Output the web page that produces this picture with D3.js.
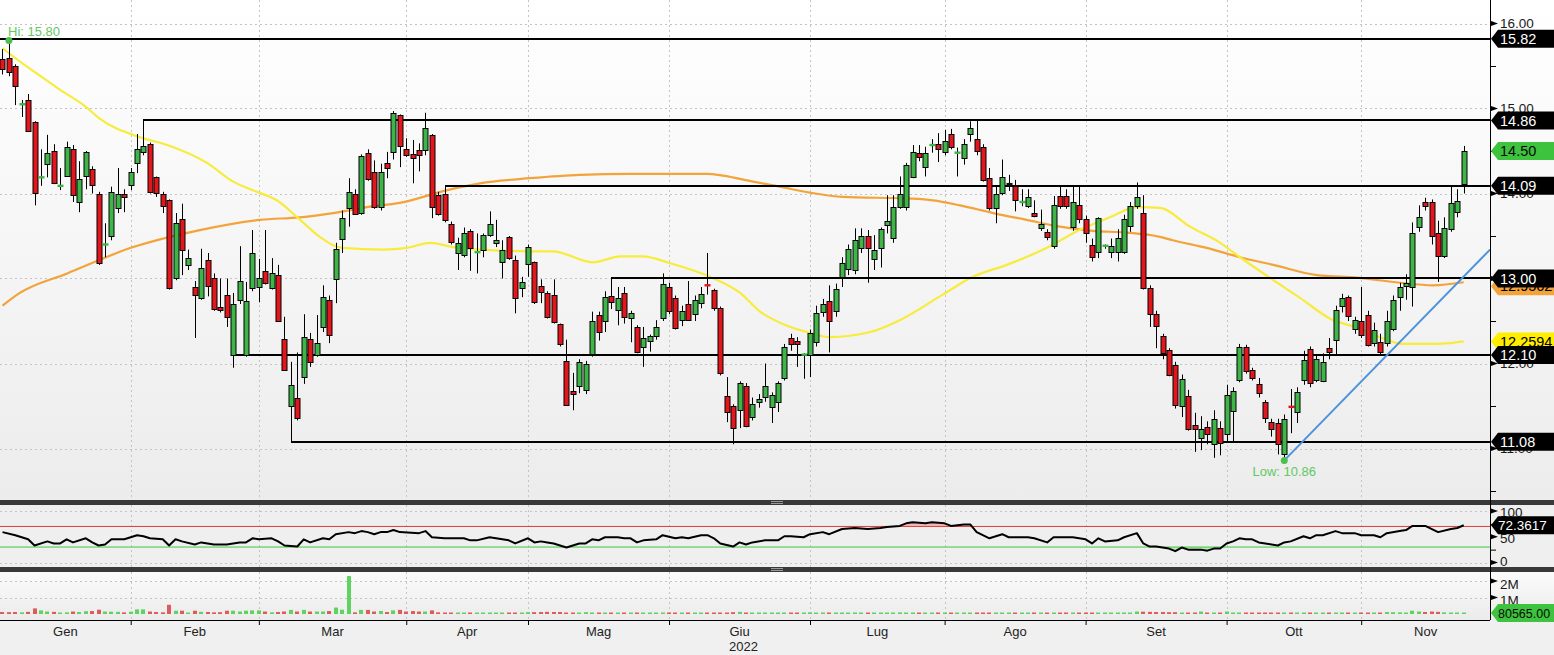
<!DOCTYPE html>
<html><head><meta charset="utf-8">
<script src="https://cdn.jsdelivr.net/npm/d3@7"></script>
<style>
body{margin:0;background:#f0f0f0;}
svg{display:block;font-family:"Liberation Sans",Arial,sans-serif;}
</style>
</head><body>
<svg id="c" width="1554" height="655"></svg>
<script>
// ---------------- DATA ----------------
const monthLabels=["Gen","Feb","Mar","Apr","Mag","Giu","Lug","Ago","Set","Ott","Nov"];
const monthStart=[0,20,40,63,82,104,126,147,169,191,212]; // trading-day index of first session of each month
const yearLabel="2022";
const priceTicks=[16,15,14,13,12,11];
const rsiTicks=[100,50,0];
const volTicks=[2000,1000]; // thousands

const open=[15.58,15.60,15.50,15.04,15.10,14.84,14.18,14.35,14.50,14.08,
14.21,14.52,13.90,14.21,14.29,14.00,13.39,13.50,13.84,14.00,
14.10,14.35,14.49,14.58,14.19,14.00,13.92,13.00,13.70,13.16,
12.90,12.77,13.22,13.00,12.67,12.81,12.10,12.75,12.10,12.89,
12.89,13.09,12.89,13.04,12.29,11.50,11.60,11.84,12.29,12.10,
12.43,12.75,13.00,13.46,13.83,14.00,13.77,14.48,14.25,13.84,
14.36,14.49,14.92,14.52,14.46,14.51,14.51,14.69,13.98,14.00,
13.64,13.30,13.28,13.56,13.30,13.33,13.51,13.42,13.19,13.49,
13.22,12.89,13.17,13.19,12.91,12.83,12.81,12.46,12.03,11.68,
11.74,11.70,12.11,12.57,12.50,12.79,12.63,12.83,12.54,12.43,
12.20,12.26,12.32,12.53,12.90,12.77,12.51,12.70,12.58,12.72,
12.93,12.86,12.65,11.62,11.50,11.45,11.74,11.37,11.54,11.61,
11.49,11.55,11.83,12.30,12.27,12.10,12.10,12.25,12.61,12.73,
12.62,13.02,13.11,13.10,13.36,13.50,13.22,13.36,13.63,13.47,
13.85,13.84,14.20,14.48,14.31,14.56,14.58,14.49,14.70,14.47,
14.41,14.70,14.64,14.55,14.18,13.84,14.00,14.11,14.09,13.89,
13.85,13.77,13.59,13.55,13.39,13.97,13.97,13.61,13.87,13.70,
13.39,13.31,13.38,13.31,13.31,13.31,13.62,13.85,13.77,12.89,
12.58,12.32,12.16,11.98,11.50,11.62,11.28,11.12,11.25,11.06,
11.24,11.17,11.45,11.81,12.19,11.92,11.76,11.55,11.31,11.30,
10.94,11.50,11.43,11.80,12.17,11.80,11.80,12.18,12.28,12.67,
12.78,12.40,12.50,12.57,12.24,12.25,12.24,12.41,12.78,12.92,
12.90,13.60,13.90,13.90,13.53,13.26,13.59,13.78,14.11];
const high=[15.70,15.80,15.52,15.10,15.17,14.85,14.52,14.69,14.58,14.30,
14.61,14.57,14.38,14.50,14.32,14.02,13.65,14.08,14.30,14.05,
14.30,14.70,14.86,14.60,14.20,14.02,13.93,13.77,13.88,13.34,
12.97,13.35,13.30,13.06,13.00,13.00,12.83,13.38,12.96,13.57,
13.23,13.57,13.24,13.16,12.55,12.02,12.13,12.58,12.36,12.57,
12.92,12.80,13.42,13.80,14.18,14.05,14.46,14.52,14.39,14.35,
14.49,14.97,14.93,14.65,14.63,14.59,14.95,14.70,14.02,14.09,
13.67,13.48,13.60,13.58,13.53,13.53,13.79,13.69,13.45,13.50,
13.27,13.02,13.40,13.20,12.99,12.85,12.99,12.47,12.28,11.89,
12.05,12.03,12.61,12.61,12.85,13.00,12.90,12.90,12.62,12.45,
12.43,12.34,12.51,13.06,12.95,12.80,12.68,12.97,12.80,12.90,
13.30,12.88,12.67,11.84,11.52,11.79,11.77,11.60,11.64,12.00,
11.66,11.79,12.23,12.35,12.31,12.12,12.40,12.68,12.76,12.92,
12.94,13.25,13.40,13.59,13.59,13.57,13.51,13.60,13.98,13.98,
14.20,14.36,14.57,14.57,14.55,14.64,14.71,14.75,14.76,14.54,
14.64,14.85,14.86,14.58,14.30,14.08,14.40,14.22,14.16,14.05,
14.05,13.92,13.81,13.58,13.97,14.09,14.05,14.09,14.09,13.74,
13.47,13.72,13.40,13.47,13.58,13.75,13.90,14.13,13.98,12.92,
12.62,12.35,12.18,12.02,11.87,11.69,11.42,11.38,11.32,11.45,
11.32,11.75,11.72,12.23,12.22,11.95,11.83,11.57,11.35,11.35,
11.40,11.70,11.72,12.15,12.20,12.10,12.12,12.30,12.68,12.82,
12.80,12.55,12.90,12.62,12.48,12.35,12.62,12.80,12.95,13.05,
13.66,13.86,13.95,13.93,13.68,13.72,14.10,14.05,14.56];
const low=[15.40,15.38,15.04,14.90,14.73,13.86,14.09,14.19,14.11,14.04,
14.20,13.90,13.78,14.05,14.00,13.16,13.25,13.45,13.77,13.78,
14.04,14.24,14.45,14.00,13.96,13.77,12.87,12.98,13.04,13.10,
12.30,12.75,12.79,12.62,12.60,12.43,11.95,12.70,12.08,12.85,
12.72,12.93,12.87,12.50,11.92,11.08,11.33,11.76,11.96,12.08,
12.37,12.24,12.71,13.30,13.61,13.75,13.75,14.15,13.82,13.80,
14.18,14.40,14.31,14.43,14.12,14.26,14.45,13.71,13.74,13.66,
13.40,13.10,13.25,13.09,13.06,13.25,13.49,13.37,13.00,13.22,
12.59,12.78,13.02,12.70,12.71,12.53,12.47,12.20,11.50,11.45,
11.65,11.64,12.08,12.27,12.37,12.64,12.45,12.47,12.25,12.12,
11.96,12.14,12.28,12.50,12.58,12.40,12.44,12.50,12.50,12.65,
12.81,12.62,11.86,11.31,11.05,11.24,11.25,11.33,11.48,11.55,
11.30,11.43,11.80,12.15,11.96,11.82,11.84,12.20,12.55,12.13,
12.55,12.90,13.04,13.05,13.30,12.95,13.10,13.13,13.53,13.42,
13.82,13.80,14.18,14.38,14.20,14.48,14.37,14.45,14.52,14.20,
14.34,14.61,14.45,14.14,13.80,13.65,13.98,14.03,13.79,13.85,
13.83,13.72,13.56,13.45,13.35,13.82,13.82,13.56,13.65,13.42,
13.20,13.24,13.35,13.24,13.20,13.29,13.55,13.82,12.87,12.43,
12.18,12.05,11.85,11.47,11.37,11.21,10.96,10.98,11.05,10.89,
10.92,11.07,11.07,11.78,11.88,11.80,11.60,11.30,11.14,10.93,
10.86,11.18,11.30,11.75,11.72,11.78,11.78,12.05,12.10,12.60,
12.50,12.35,12.30,12.20,12.20,12.10,12.20,12.38,12.62,12.75,
12.67,13.55,13.80,13.40,12.96,13.24,13.55,13.72,14.00];
const close=[15.46,15.43,15.26,15.06,14.74,14.00,14.20,14.48,14.12,14.10,
14.55,13.98,14.17,14.49,14.10,13.19,13.41,14.02,14.00,13.97,
14.25,14.52,14.56,14.02,14.00,13.86,12.89,13.65,13.34,13.24,
12.81,13.12,12.92,12.63,12.63,12.55,12.70,12.97,12.73,13.30,
13.00,12.95,13.07,12.50,11.92,11.75,11.37,12.31,12.02,12.24,
12.78,12.34,13.35,13.71,14.02,13.77,14.44,14.17,13.84,14.25,
14.30,14.95,14.55,14.45,14.41,14.45,14.77,13.84,13.76,13.69,
13.43,13.42,13.54,13.36,13.32,13.51,13.64,13.45,13.33,13.24,
12.77,12.96,13.37,12.72,12.84,12.55,12.49,12.22,11.51,11.64,
12.02,12.00,12.50,12.37,12.78,12.72,12.77,12.55,12.60,12.13,
12.30,12.32,12.43,12.93,12.62,12.42,12.62,12.51,12.75,12.82,
12.91,12.65,11.88,11.43,11.24,11.77,11.27,11.52,11.58,11.74,
11.63,11.77,12.19,12.23,12.23,12.11,12.36,12.59,12.70,12.49,
12.88,13.18,13.35,13.45,13.50,13.36,13.33,13.58,13.68,13.84,
14.00,14.33,14.49,14.43,14.48,14.58,14.52,14.62,14.55,14.49,
14.58,14.77,14.50,14.16,13.83,14.00,14.19,14.11,13.93,13.91,
13.96,13.74,13.64,13.49,13.87,13.85,13.85,13.90,13.70,13.53,
13.25,13.71,13.39,13.38,13.48,13.70,13.85,13.96,12.89,12.59,
12.44,12.12,11.87,11.51,11.82,11.23,11.23,11.23,11.17,11.35,
11.06,11.63,11.68,12.20,11.91,11.83,11.65,11.36,11.23,11.05,
11.35,11.48,11.66,12.04,11.77,12.05,12.02,12.13,12.63,12.77,
12.56,12.51,12.33,12.22,12.39,12.13,12.50,12.75,12.90,12.95,
13.54,13.72,13.85,13.50,13.26,13.59,13.89,13.91,14.50];
// volume, thousands of shares
const volume=[120,110,120,100,130,340,220,150,130,90,
100,150,120,170,180,260,150,140,130,100,
140,280,280,150,120,100,560,200,200,80,
200,130,120,100,110,200,200,150,200,220,
220,150,100,120,150,250,150,250,150,150,
150,180,390,260,2300,100,250,250,150,180,
120,220,250,150,180,150,150,220,100,90,
80,70,80,70,70,80,70,70,80,70,
80,90,110,110,120,130,120,120,90,80,
70,110,70,80,70,80,80,70,80,70,
80,80,70,90,60,40,50,60,70,80,
70,80,90,80,110,130,80,60,60,50,
60,60,70,60,50,60,100,70,60,60,
80,70,60,60,70,80,60,70,90,80,
100,90,70,90,80,60,60,70,60,60,
50,50,60,60,60,60,50,50,50,60,
50,50,60,60,50,50,50,60,50,60,
60,60,50,50,50,60,60,150,140,130,
120,120,110,110,90,80,80,150,90,80,
80,150,80,80,70,60,60,60,60,60,
70,60,60,70,80,70,60,60,60,60,
60,60,60,60,60,70,120,110,100,90,
200,150,120,150,130,100,80,70,80.565];
// 50-day moving average (yellow), sampled vertices
const maFastIdx=[0,1,5,9,13,15,21.5,25.7,31.9,36,39.7,42.8,46,49.5,51.6,53.1,59.4,63.1,66.7,70.3,74.5,82.3,85.9,92.1,96.4,99.9,104.2,110.4,115.1,118.2,121.3,126,129.1,135.4,140,146.7,151.4,156.7,162.4,168.6,172.8,177,180.6,185.3,190,193.1,198.3,202.5,207.1,211.4,214.9,218.5,221.6,225.9,228];
const maFastVal=[15.71,15.65,15.43,15.22,15.02,14.89,14.66,14.57,14.36,14.14,14.02,13.92,13.72,13.49,13.39,13.36,13.34,13.36,13.42,13.37,13.34,13.32,13.32,13.19,13.26,13.26,13.18,13.02,12.83,12.61,12.48,12.36,12.31,12.37,12.51,12.81,13.02,13.16,13.34,13.59,13.72,13.84,13.83,13.61,13.42,13.25,12.98,12.77,12.53,12.42,12.31,12.23,12.23,12.24,12.2594];
// 200-day moving average (orange), sampled vertices
const maSlowIdx=[0,2.7,10.1,20.4,30.8,40.2,46.4,51.6,56.9,62,69.4,74.5,82.3,90.1,97.9,110,112.4,117.1,121.3,126,131.1,141.6,145.2,149.4,154.6,159.8,165,170.1,175.5,180.6,182.6,187.9,193.1,198.3,205.1,211.4,218,223.2,228];
const maSlowVal=[12.68,12.83,13.06,13.37,13.57,13.69,13.72,13.77,13.84,13.89,14.04,14.12,14.18,14.22,14.23,14.23,14.21,14.14,14.08,14.01,13.96,13.94,13.92,13.86,13.77,13.69,13.61,13.56,13.54,13.49,13.45,13.36,13.25,13.16,13.04,13.01,12.95,12.92,12.9562];
// RSI, sampled vertices
const rsiIdx=[0,2,4,5,7,8,9,10,11,13,14,15,16,17,19,20,21,22,23,25,26,27,28,30,31,33,35,37,38,39,40,42,43,44,46,47,48,50,51,52,54,55,56,57,58,59,60,61,62,65,66,67,69,72,73,74,76,78,79,80,82,83,84,85,86,88,90,91,92,93,94,96,97,98,99,100,102,103,105,106,107,109,110,111,112,114,115,116,117,119,121,122,123,125,126,128,129,131,133,135,137,138,140,141,142,144,145,147,148,150,151,152,154,156,157,159,160,161,163,164,167,169,170,171,172,174,175,177,178,179,180,182,183,184,185,187,188,189,190,191,192,193,194,195,196,199,200,201,203,204,205,206,208,209,211,212,214,215,216,218,219,220,222,224,226,227,228];
const rsiVal=[59,53,45,33,41,37,37,45,39,47,39,33,35,45,45,49,53,51,47,45,33,45,41,35,39,35,35,39,39,47,45,47,41,33,31,45,39,47,45,55,59,57,61,59,55,59,59,63,59,57,61,49,47,47,43,43,49,45,43,37,47,39,41,39,37,29,37,37,45,43,49,49,47,47,39,43,45,53,47,49,47,53,53,47,37,31,39,35,39,43,43,51,51,49,55,59,55,65,67,65,67,69,71,76,78,76,78,76,71,74,74,59,47,55,49,49,49,47,39,49,49,45,37,47,41,43,49,57,37,31,31,27,22,29,25,25,23,27,27,37,41,47,45,45,39,33,39,41,51,47,53,53,61,57,57,53,53,49,57,61,63,71,71,59,65,67,72.3617];
// drawn support / resistance levels (value, first session index; -1 = from left edge)
const levelVal=[15.82,14.86,14.09,13.00,12.10,11.08];
const levelFrom=[-1,22,69,95,36,45];
// trend line (two anchor points)
const trendIdx=[200,232.1];
const trendVal=[10.86,13.34];
const hiIdx=1, hiVal=15.80, lowIdx=200, lowVal=10.86;
const lastVolume=80565.00, lastRsi=72.3617;

// ---------------- LAYOUT ----------------
const W=1554, PR=1490;
const svg=d3.select("#c");
const x=d3.scaleLinear().domain([-0.39,232.1]).range([0,PR]);
const y=d3.scaleLinear().domain([11,16]).range([448.5,23.5]);
const yR=d3.scaleLinear().domain([0,100]).range([562.5,511]);
const yV=d3.scaleLinear().domain([0,2000]).range([614,581]);
const MAIN=[0,500], RSI=[505,567], VOL=[572,620];

const defs=svg.append("defs");
const g1=defs.append("linearGradient").attr("id","gMain").attr("x1",0).attr("x2",0).attr("y1",0).attr("y2",1);
g1.append("stop").attr("offset","0%").attr("stop-color","#ffffff");
g1.append("stop").attr("offset","100%").attr("stop-color","#ececec");
const g2=defs.append("linearGradient").attr("id","gVol").attr("x1",0).attr("x2",0).attr("y1",0).attr("y2",1);
g2.append("stop").attr("offset","0%").attr("stop-color","#fbfbfb");
g2.append("stop").attr("offset","100%").attr("stop-color","#ebebeb");
defs.append("clipPath").attr("id","cpMain").append("rect").attr("x",0).attr("y",0).attr("width",PR).attr("height",500);
defs.append("clipPath").attr("id","cpOB").append("rect").attr("x",0).attr("y",RSI[0]).attr("width",PR).attr("height",yR(70)-RSI[0]);
defs.append("clipPath").attr("id","cpOS").append("rect").attr("x",0).attr("y",yR(30)).attr("width",PR).attr("height",RSI[1]-yR(30));

// backgrounds
svg.append("rect").attr("x",0).attr("y",0).attr("width",W).attr("height",655).attr("fill","#f0f0f0");
svg.append("rect").attr("x",0).attr("y",MAIN[0]).attr("width",W).attr("height",MAIN[1]-MAIN[0]).attr("fill","url(#gMain)");
svg.append("rect").attr("x",0).attr("y",RSI[0]).attr("width",W).attr("height",RSI[1]-RSI[0]).attr("fill","#efefef");
svg.append("rect").attr("x",0).attr("y",VOL[0]).attr("width",W).attr("height",VOL[1]-VOL[0]).attr("fill","url(#gVol)");

// grid
const grid=svg.append("g").attr("stroke","#c4c4c4").attr("stroke-dasharray","2,3").attr("stroke-width",1);
[MAIN,RSI,VOL].forEach(p=>{
  monthStart.slice(1).forEach(m=>{
    const xx=Math.round(x(m))+0.5;
    grid.append("line").attr("x1",xx).attr("x2",xx).attr("y1",p[0]).attr("y2",p[1]);
  });
});
priceTicks.forEach(t=>{const yy=Math.round(y(t))+0.5;grid.append("line").attr("x1",0).attr("x2",PR).attr("y1",yy).attr("y2",yy);});
[100,0].forEach(t=>{const yy=Math.round(yR(t))+0.5;grid.append("line").attr("x1",0).attr("x2",PR).attr("y1",yy).attr("y2",yy);});
volTicks.forEach(t=>{const yy=Math.round(yV(t))+0.5;grid.append("line").attr("x1",0).attr("x2",PR).attr("y1",yy).attr("y2",yy);});

// ---------- main panel ----------
const main=svg.append("g").attr("clip-path","url(#cpMain)");
const lineGen=(xs,vs)=>d3.line().curve(d3.curveMonotoneX).x((d,i)=>x(xs[i])).y((d,i)=>y(vs[i]))(vs);
main.append("path").attr("d",lineGen(maSlowIdx,maSlowVal)).attr("fill","none").attr("stroke","#f2a33a").attr("stroke-width",2.2);
main.append("path").attr("d",lineGen(maFastIdx,maFastVal)).attr("fill","none").attr("stroke","#f7ec3c").attr("stroke-width",2.2);

// levels
levelVal.forEach((v,k)=>{
  const yy=Math.round(y(v));
  const x0=levelFrom[k]<0?0:Math.round(x(levelFrom[k]));
  main.append("line").attr("x1",x0).attr("x2",PR).attr("y1",yy).attr("y2",yy).attr("stroke","#000").attr("stroke-width",2);
});

// candles
const data=open.map((o,i)=>({i,o,h:high[i],l:low[i],c:close[i],v:volume[i]}));
const colOf=d=>d.c>d.o?"#3fb548":(d.c<d.o?"#e3161d":"#111");
const cg=main.append("g");
cg.selectAll("line.w").data(data).join("line").attr("class","w")
  .attr("x1",d=>Math.round(x(d.i))+0.5).attr("x2",d=>Math.round(x(d.i))+0.5)
  .attr("y1",d=>y(d.h)).attr("y2",d=>y(d.l)).attr("stroke","#000").attr("stroke-width",1);
cg.selectAll("rect.b").data(data).join("rect").attr("class","b")
  .each(function(d){
    const top=y(Math.max(d.o,d.c)), bot=y(Math.min(d.o,d.c));
    const h=bot-top;
    const r=d3.select(this);
    const xc=Math.round(x(d.i));
    if(h<2){
      r.attr("x",xc-2.5).attr("width",6).attr("y",(top+bot)/2-1.2).attr("height",2.4).attr("fill",colOf(d)).attr("stroke","none");
    } else {
      r.attr("x",xc-2).attr("width",5).attr("y",Math.round(top)+0.5).attr("height",Math.max(1,Math.round(h))).attr("fill",colOf(d)).attr("stroke","#000").attr("stroke-width",1);
    }
  });

// trendline
main.append("line").attr("x1",x(trendIdx[0])).attr("y1",y(trendVal[0])).attr("x2",x(trendIdx[1])).attr("y2",y(trendVal[1]))
  .attr("stroke","#4d93dc").attr("stroke-width",2);

// hi / low annotations
main.append("circle").attr("cx",x(hiIdx)).attr("cy",y(hiVal)).attr("r",3.5).attr("fill","#4cbf4c");
main.append("text").attr("x",8).attr("y",y(hiVal)-9).attr("dy","0.35em").text("Hi: "+hiVal.toFixed(2)).attr("fill","#62c862").style("font-size","13px");
main.append("circle").attr("cx",x(lowIdx)).attr("cy",y(lowVal)).attr("r",3.5).attr("fill","#4cbf4c");
main.append("text").attr("x",x(lowIdx)).attr("y",y(lowVal)+11).attr("dy","0.35em").attr("text-anchor","middle").text("Low: "+lowVal.toFixed(2)).attr("fill","#62c862").style("font-size","13px");

// ---------- RSI panel ----------
const rsiLine=d3.line().x((d,i)=>x(rsiIdx[i])).y((d,i)=>yR(rsiVal[i]));
svg.append("path").attr("clip-path","url(#cpOB)")
  .attr("d",d3.area().x((d,i)=>x(rsiIdx[i])).y0(yR(70)).y1((d,i)=>yR(rsiVal[i]))(rsiVal)).attr("fill","#f4b8b8");
svg.append("path").attr("clip-path","url(#cpOS)")
  .attr("d",d3.area().x((d,i)=>x(rsiIdx[i])).y0(yR(30)).y1((d,i)=>yR(rsiVal[i]))(rsiVal)).attr("fill","#b9e8b9");
svg.append("line").attr("x1",0).attr("x2",PR).attr("y1",yR(70)).attr("y2",yR(70)).attr("stroke","#e23b3b").attr("stroke-width",1);
svg.append("line").attr("x1",0).attr("x2",PR).attr("y1",yR(30)).attr("y2",yR(30)).attr("stroke","#3cc83c").attr("stroke-width",1);
svg.append("path").attr("d",rsiLine(rsiVal)).attr("fill","none").attr("stroke","#000").attr("stroke-width",2).attr("stroke-linejoin","round");

// ---------- Volume panel ----------
svg.append("g").selectAll("rect").data(data).join("rect")
  .attr("x",d=>Math.round(x(d.i))-2).attr("width",4)
  .attr("y",d=>Math.min(yV(d.v),yV(0)-1.5)).attr("height",d=>Math.max(1.5,yV(0)-yV(d.v)))
  .attr("fill",d=>d.c>=d.o?"#5fd35f":"#de5b5b");

// ---------- separators ----------
[500,567].forEach(s=>{
  svg.append("rect").attr("x",0).attr("y",s).attr("width",W).attr("height",5).attr("fill","#393939");
  svg.append("line").attr("x1",771).attr("x2",783).attr("y1",s+1.5).attr("y2",s+1.5).attr("stroke","#9a9a9a");
  svg.append("line").attr("x1",771).attr("x2",783).attr("y1",s+3.5).attr("y2",s+3.5).attr("stroke","#9a9a9a");
});

// ---------- axes ----------
const ax=svg.append("g");
ax.append("line").attr("x1",PR+0.5).attr("x2",PR+0.5).attr("y1",0).attr("y2",620).attr("stroke","#000");
// bottom axis
const xAxis=d3.axisBottom(x).tickValues(monthStart.slice(1)).tickSize(5).tickFormat("");
const xg=svg.append("g").attr("transform","translate(0,620)").call(xAxis);
xg.select(".domain").attr("d",`M0,0.5H${PR}`).attr("stroke","#000");
xg.selectAll(".tick line").attr("stroke","#000");
const bounds=[-0.39].concat(monthStart.slice(1)).concat([232.1]);
monthLabels.forEach((m,k)=>{
  const mid=(bounds[k]+bounds[k+1])/2;
  svg.append("text").attr("x",x(mid)).attr("y",631).attr("dy","0.35em").attr("text-anchor","middle").text(m).attr("fill","#222").style("font-size","13px");
});
svg.append("text").attr("x",x(115)+4).attr("y",646).attr("dy","0.35em").attr("text-anchor","middle").text(yearLabel).attr("fill","#222").style("font-size","13px");

// right axis ticks: price
const yAxis=d3.axisRight(y).tickValues(priceTicks).tickSize(0).tickPadding(10).tickFormat(d3.format(".2f"));
const yg=svg.append("g").attr("transform",`translate(${PR},0)`).call(yAxis);
yg.select(".domain").remove();
yg.selectAll("text").attr("fill","#1a1a1a").style("font-size","13.5px").attr("font-family","Liberation Sans, Arial, sans-serif");
const minor=d3.axisRight(y).tickValues([15.5,14.5,13.5,12.5,11.5,10.5]).tickSize(6).tickFormat("");
const mg=svg.append("g").attr("transform",`translate(${PR},0)`).call(minor);
mg.select(".domain").remove(); mg.selectAll("line").attr("stroke","#000");
const arrow=(yy)=>svg.append("path").attr("d",`M${PR+1},${yy-2.5}L${PR+8},${yy}L${PR+1},${yy+2.5}Z`).attr("fill","#000");
priceTicks.forEach(t=>arrow(y(t)));

// RSI ticks
const rAxis=d3.axisRight(yR).tickValues(rsiTicks).tickSize(0).tickPadding(10).tickFormat(d3.format("d"));
const rg=svg.append("g").attr("transform",`translate(${PR},1)`).call(rAxis);
rg.select(".domain").remove();
rg.selectAll("text").attr("fill","#1a1a1a").style("font-size","13.5px").attr("font-family","Liberation Sans, Arial, sans-serif");
rg.selectAll(".tick").filter(d=>d===0).select("text").attr("y",-2);
rsiTicks.forEach(t=>arrow(yR(t)));
const rminor=d3.axisRight(yR).tickValues([75,25]).tickSize(6).tickFormat("");
const rmg=svg.append("g").attr("transform",`translate(${PR},0)`).call(rminor); rmg.select(".domain").remove(); rmg.selectAll("line").attr("stroke","#000");

// Volume ticks
const vAxis=d3.axisRight(yV).tickValues(volTicks).tickSize(0).tickPadding(10).tickFormat(d=>(d/1000)+"M");
const vg=svg.append("g").attr("transform",`translate(${PR},3)`).call(vAxis);
vg.select(".domain").remove();
vg.selectAll("text").attr("fill","#1a1a1a").style("font-size","13.5px").attr("font-family","Liberation Sans, Arial, sans-serif");
volTicks.forEach(t=>arrow(yV(t)));

// ---------- value tags ----------
function tag(yc,txt,fill,tc,fs){
  const h=9;
  svg.append("path").attr("d",`M${PR+1},${yc}L${PR+8},${yc-h}L${W},${yc-h}L${W},${yc+h}L${PR+8},${yc+h}Z`).attr("fill",fill);
  svg.append("text").attr("x",PR+(fs?8:10)).attr("y",yc).attr("dy","0.36em").text(txt).attr("fill",tc).style("font-size",(fs||14.5)+"px");
}
const lastSlow=maSlowVal[maSlowVal.length-1], lastFast=maFastVal[maFastVal.length-1];
tag(y(lastSlow)+4,lastSlow.toFixed(4),"#f2a33a","#000");
tag(y(levelVal[3]),levelVal[3].toFixed(2),"#000","#fff");
tag(y(lastFast),lastFast.toFixed(4),"#ffee00","#000");
tag(y(levelVal[4]),levelVal[4].toFixed(2),"#000","#fff");
tag(y(close[close.length-1]),close[close.length-1].toFixed(2),"#3dc33d","#0b0b0b");
[0,1,2,5].forEach(k=>tag(y(levelVal[k]),levelVal[k].toFixed(2),"#000","#fff"));
tag(yR(lastRsi),lastRsi.toFixed(4),"#000","#fff",13.5);
tag(613,lastVolume.toFixed(2),"#3dc33d","#0b0b0b",12.5);
</script>
</body></html>
